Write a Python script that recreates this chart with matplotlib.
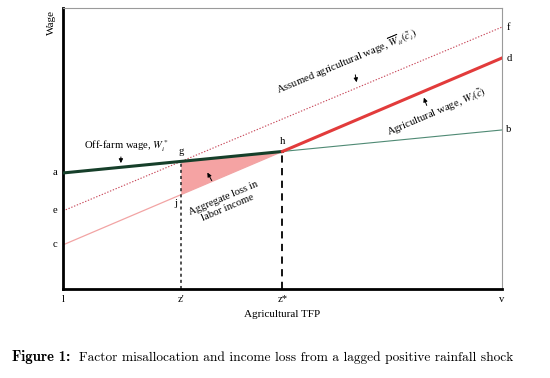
import numpy as np
import matplotlib.pyplot as plt
from matplotlib.patches import Polygon

plt.rcParams['font.family'] = ['Liberation Serif', 'DejaVu Serif']
plt.rcParams['mathtext.fontset'] = 'stix'

# Wage lines: value at x = 0 (left edge, "l") and at x = v
x_min, x_max = 0.0, 10.0
offfarm = [4.13, 5.66]      # a -> b
agri = [1.57, 8.22]         # c -> d
assumed = [2.78, 9.32]      # e -> f
edge_labels_left = ['a', 'c', 'e']
edge_labels_right = ['b', 'd', 'f']


def line_y(p, x):
    return p[0] + (p[1] - p[0]) * (x - x_min) / (x_max - x_min)


def cross(p, q):
    sp = (p[1] - p[0]) / (x_max - x_min)
    sq = (q[1] - q[0]) / (x_max - x_min)
    return x_min + (q[0] - p[0]) / (sp - sq)


z_star = cross(offfarm, agri)       # h
z_prime = cross(offfarm, assumed)   # g
h = (z_star, line_y(offfarm, z_star))
g = (z_prime, line_y(offfarm, z_prime))
j = (z_prime, line_y(agri, z_prime))

fig = plt.figure(figsize=(5.5, 3.78), dpi=100)
ax = fig.add_axes([0.1145, 0.2354, 0.798, 0.7434])
ax.set_xlim(x_min, x_max)
ax.set_ylim(0, 10)
ax.set_xticks([])
ax.set_yticks([])
for s in ['left', 'bottom']:
    ax.spines[s].set_linewidth(2)
    ax.spines[s].set_color('black')
for s in ['top', 'right']:
    ax.spines[s].set_linewidth(0.8)
    ax.spines[s].set_color('#9a9a9a')

# loss triangle
ax.add_patch(Polygon([g, h, j], closed=True, facecolor='#f5a3a3', edgecolor='none', zorder=1))

# off-farm wage
ax.plot([x_min, z_star], [offfarm[0], h[1]], color='#163f2a', lw=2.2, zorder=3)
ax.plot([z_star, x_max], [h[1], offfarm[1]], color='#4f8a74', lw=0.8, zorder=3)
# agricultural wage
ax.plot([x_min, z_star], [agri[0], h[1]], color='#f2a4a4', lw=0.9, zorder=2)
ax.plot([z_star, x_max], [h[1], agri[1]], color='#e23b3b', lw=2.2, zorder=3)
# assumed agricultural wage
ax.plot([x_min, x_max], assumed, color='#c8485a', lw=0.8, ls=(0, (1.2, 1.5)), zorder=2)

# verticals
ax.plot([z_prime, z_prime], [0, g[1]], color='#222222', lw=1.1, ls=(0, (2, 2)), zorder=2)
ax.plot([z_star, z_star], [0, h[1]], color='black', lw=1.3, ls=(0, (4, 3)), zorder=2)

fs = 7.7
for lab, p in zip(edge_labels_left, [offfarm, agri, assumed]):
    ax.text(-0.12, p[0], lab, ha='right', va='center', fontsize=fs)
for lab, p in zip(edge_labels_right, [offfarm, agri, assumed]):
    ax.text(x_max + 0.1, p[1], lab, ha='left', va='center', fontsize=fs)
ax.text(g[0], g[1] + 0.2, 'g', ha='center', va='bottom', fontsize=fs)
ax.text(h[0], h[1] + 0.2, 'h', ha='center', va='bottom', fontsize=fs)
ax.text(j[0] - 0.1, j[1] - 0.15, 'j', ha='right', va='top', fontsize=fs)

# x tick labels
for xv, lab in [(x_min, 'l'), (z_prime, "z'"), (z_star, 'z*'), (x_max, 'v')]:
    ax.text(xv, -0.2, lab, ha='center', va='top', fontsize=fs)
ax.text(5.0, -0.75, 'Agricultural TFP', ha='center', va='top', fontsize=8)
ax.text(-0.26, 9.5, 'Wage', ha='center', va='center', rotation=90, fontsize=8)


def angle_of(p):
    a = ax.transData.transform((x_min, p[0]))
    b = ax.transData.transform((x_max, p[1]))
    return np.degrees(np.arctan2(b[1] - a[1], b[0] - a[0]))


arrow = dict(arrowstyle='-|>', color='black', lw=0.7, mutation_scale=6)

ax.text(1.45, 5.09, 'Off-farm wage, $W_i^*$', ha='center', va='center', fontsize=fs)
ax.annotate('', xy=(1.32, line_y(offfarm, 1.32) + 0.05), xytext=(1.32, 4.8), arrowprops=arrow)

ax.text(6.47, 8.08, r'Assumed agricultural wage, $\overline{W}_{it}(\tilde{c}_i)$',
        ha='center', va='center', fontsize=fs, rotation=angle_of(assumed), rotation_mode='anchor')
ax.annotate('', xy=(6.70, line_y(assumed, 6.70) + 0.1), xytext=(6.65, 7.72), arrowprops=arrow)

ax.text(8.52, 6.30, r'Agricultural wage, $W_i(\tilde{c})$',
        ha='center', va='center', fontsize=fs, rotation=angle_of(agri), rotation_mode='anchor')
ax.annotate('', xy=(8.20, line_y(agri, 8.20) - 0.12), xytext=(8.31, 6.44), arrowprops=arrow)

ax.text(3.70, 3.05, 'Aggregate loss in\nlabor income', ha='center', va='center', fontsize=fs,
        rotation=angle_of(agri), rotation_mode='anchor', linespacing=1.2)
ax.annotate('', xy=(3.26, 4.23), xytext=(3.42, 3.77), arrowprops=arrow)

fig.text(0.022, 0.055, 'Figure 1:', fontsize=10.6, family='cmb10', ha='left', va='center')
fig.text(0.1436, 0.055, 'Factor misallocation and income loss from a lagged positive rainfall shock',
         fontsize=9.64, family='cmr10', ha='left', va='center')

fig.savefig('out.png', dpi=100)
